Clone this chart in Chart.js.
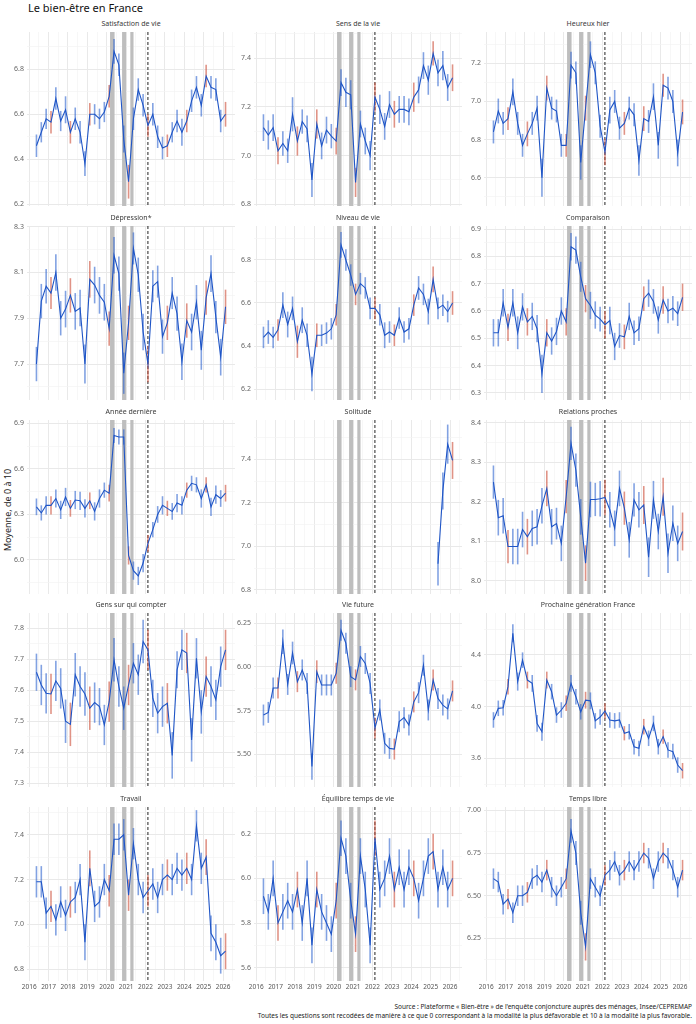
<!DOCTYPE html>
<html>
<head>
<meta charset="utf-8">
<script src="https://cdn.jsdelivr.net/npm/chart.js@4.4.0/dist/chart.umd.min.js"></script>
<style>
  body { margin: 0; background: #fff; font-family: "Noto Sans", sans-serif; }
  #wrap { position: relative; width: 696px; height: 1024px; overflow: hidden; }
  #wrap canvas { position: absolute; }
  .strip { position: absolute; font-size: 7px; line-height: 10px; color: #3a3a3a; text-align: center; white-space: nowrap; }
  #title { position: absolute; left: 28px; top: 0; font-size: 11px; line-height: 16px; color: #111; }
  #ytitle { position: absolute; left: 8px; top: 510px; font-size: 9px; line-height: 10px; color: #222;
            transform: translate(-50%, -50%) rotate(-90deg); white-space: nowrap; }
  .note { position: absolute; right: 4px; font-size: 6.5px; line-height: 9px; color: #222; white-space: nowrap; }
</style>
</head>
<body>
<div id="wrap">
  <div id="title">Le bien-être en France</div>
  <div id="ytitle">Moyenne, de 0 à 10</div>
</div>
<script>
// enquête trimestrielle (mois)
var dates = ["2016-05","2016-08","2016-11","2017-02","2017-05","2017-08","2017-11","2018-02","2018-05","2018-08",
             "2018-11","2019-02","2019-05","2019-08","2019-11","2020-02","2020-05","2020-08","2020-11","2021-02",
             "2021-05","2021-08","2021-11","2022-02","2022-05","2022-08","2022-11","2023-02","2023-05","2023-08",
             "2023-11","2024-02","2024-05","2024-08","2024-11","2025-02","2025-05","2025-08","2025-11","2026-02"];
var highlightMonth = "02";

var titles = ["Satisfaction de vie","Sens de la vie","Heureux hier",
              "Dépression*","Niveau de vie","Comparaison",
              "Année dernière","Solitude","Relations proches",
              "Gens sur qui compter","Vie future","Prochaine génération France",
              "Travail","Équilibre temps de vie","Temps libre"];

var satisfaction = [6.46,6.52,6.58,6.565,6.67,6.57,6.62,6.52,6.58,6.52,6.38,6.60,6.60,6.58,6.61,6.68,6.88,6.82,6.49,6.30,
                    6.58,6.71,6.64,6.55,6.60,6.50,6.45,6.46,6.52,6.57,6.52,6.57,6.66,6.72,6.64,6.77,6.72,6.71,6.57,6.60];
var errSatisfaction = [0.05,0.045,0.045,0.05,0.05,0.045,0.06,0.05,0.05,0.05,0.055,0.05,0.045,0.045,0.045,0.05,0.055,0.05,0.06,0.075,
                       0.05,0.05,0.05,0.05,0.05,0.05,0.05,0.05,0.045,0.05,0.06,0.05,0.05,0.05,0.05,0.05,0.05,0.05,0.05,0.055];

var sens = [7.115,7.085,7.115,7.02,7.05,7.02,7.17,7.06,7.14,7.11,6.90,7.13,7.04,7.105,7.08,7.06,7.30,7.26,7.25,6.89,
            7.13,7.06,7.00,7.24,7.19,7.12,7.21,7.17,7.19,7.19,7.18,7.24,7.27,7.37,7.31,7.42,7.34,7.37,7.28,7.32];
var errSens = [0.055,0.06,0.055,0.055,0.05,0.05,0.07,0.06,0.05,0.055,0.07,0.06,0.055,0.055,0.05,0.055,0.055,0.06,0.06,0.06,
               0.055,0.055,0.06,0.06,0.06,0.055,0.055,0.055,0.055,0.055,0.055,0.06,0.055,0.055,0.06,0.05,0.055,0.06,0.055,0.055];

var heureux = [6.84,6.95,6.885,6.91,7.05,6.885,6.77,6.83,6.885,6.965,6.60,7.07,6.965,6.95,6.77,6.77,7.19,7.15,6.68,6.965,
               7.245,7.15,6.87,6.735,6.955,7.00,6.86,6.885,6.965,6.93,6.69,6.91,6.895,7.025,6.77,7.085,7.07,7.00,6.73,6.945];
var errHeureux = [0.06,0.065,0.06,0.06,0.07,0.06,0.06,0.065,0.06,0.065,0.1,0.065,0.06,0.06,0.06,0.06,0.07,0.06,0.09,0.065,
                  0.07,0.06,0.06,0.07,0.07,0.06,0.06,0.06,0.06,0.06,0.08,0.065,0.06,0.07,0.07,0.06,0.06,0.06,0.07,0.065];

var depression = [7.70,7.975,8.04,8.01,8.10,7.90,7.94,8.00,7.93,7.945,7.70,8.07,8.045,8.00,7.97,7.855,8.175,8.095,7.66,7.88,
                  8.205,8.09,7.84,7.70,8.04,8.06,7.82,7.88,8.01,7.92,7.71,7.89,7.84,7.97,7.76,7.99,8.095,7.905,7.73,7.95];
var errDepression = [0.075,0.075,0.075,0.07,0.08,0.075,0.08,0.075,0.08,0.08,0.085,0.08,0.08,0.08,0.08,0.075,0.08,0.075,0.09,0.075,
                     0.07,0.075,0.08,0.08,0.07,0.07,0.075,0.075,0.07,0.075,0.08,0.075,0.08,0.075,0.085,0.075,0.08,0.07,0.08,0.075];

var niveau = [6.44,6.465,6.44,6.475,6.59,6.50,6.575,6.42,6.52,6.45,6.27,6.45,6.45,6.46,6.48,6.545,6.87,6.80,6.73,6.64,
              6.69,6.67,6.575,6.575,6.545,6.45,6.465,6.45,6.53,6.465,6.48,6.59,6.67,6.64,6.56,6.71,6.575,6.59,6.56,6.60];
var errNiveau = [0.05,0.055,0.05,0.05,0.06,0.06,0.055,0.075,0.06,0.055,0.08,0.055,0.05,0.05,0.05,0.05,0.06,0.05,0.05,0.05,
                 0.05,0.05,0.05,0.05,0.05,0.06,0.05,0.05,0.05,0.05,0.05,0.05,0.055,0.05,0.06,0.06,0.05,0.05,0.05,0.055];

var comparaison = [6.52,6.52,6.63,6.54,6.63,6.52,6.615,6.56,6.58,6.535,6.37,6.52,6.49,6.525,6.60,6.56,6.835,6.823,6.725,6.645,
                   6.62,6.585,6.57,6.55,6.565,6.47,6.51,6.505,6.58,6.52,6.535,6.645,6.665,6.635,6.567,6.64,6.60,6.61,6.59,6.65];
var errComparaison = [0.05,0.05,0.05,0.05,0.05,0.06,0.05,0.05,0.05,0.05,0.07,0.05,0.05,0.05,0.05,0.05,0.05,0.05,0.055,0.05,
                      0.05,0.05,0.045,0.05,0.05,0.05,0.045,0.045,0.05,0.045,0.045,0.045,0.05,0.045,0.05,0.05,0.045,0.045,0.045,0.05];

var anneeDerniere = [6.35,6.31,6.36,6.36,6.405,6.33,6.415,6.34,6.395,6.39,6.34,6.39,6.32,6.405,6.46,6.44,6.82,6.81,6.81,6.03,
                     5.93,5.895,5.98,6.11,6.20,6.30,6.36,6.34,6.32,6.375,6.36,6.46,6.505,6.495,6.405,6.495,6.35,6.43,6.405,6.44];
var errAnneeDerniere = [0.055,0.05,0.06,0.06,0.06,0.06,0.06,0.055,0.06,0.06,0.06,0.055,0.06,0.06,0.05,0.055,0.05,0.05,0.05,0.06,
                        0.06,0.06,0.06,0.055,0.05,0.055,0.06,0.05,0.055,0.06,0.06,0.05,0.05,0.05,0.06,0.05,0.06,0.06,0.055,0.055];

var solitude = [null,null,null,null,null,null,null,null,null,null,null,null,null,null,null,null,null,null,null,null,
                null,null,null,null,null,null,null,null,null,null,null,null,null,null,null,null,6.92,7.255,7.47,7.395];
var errSolitude = [null,null,null,null,null,null,null,null,null,null,null,null,null,null,null,null,null,null,null,null,
                   null,null,null,null,null,null,null,null,null,null,null,null,null,null,null,null,0.1,0.085,0.09,0.085];

var relations = [8.25,8.16,8.165,8.087,8.087,8.087,8.13,8.112,8.133,8.137,8.19,8.234,8.137,8.145,8.095,8.213,8.348,8.28,8.162,8.045,
                 8.206,8.206,8.208,8.211,8.18,8.133,8.234,8.184,8.104,8.205,8.18,8.192,8.06,8.205,8.125,8.213,8.07,8.146,8.095,8.125];
var errRelations = [0.042,0.045,0.045,0.042,0.045,0.045,0.045,0.045,0.045,0.045,0.045,0.045,0.045,0.04,0.045,0.042,0.042,0.042,0.045,0.045,
                    0.045,0.042,0.045,0.045,0.045,0.045,0.045,0.042,0.045,0.042,0.045,0.048,0.05,0.048,0.045,0.048,0.05,0.045,0.045,0.048];

var gensCompter = [7.658,7.617,7.59,7.588,7.63,7.606,7.50,7.49,7.65,7.612,7.588,7.542,7.56,7.547,7.488,7.563,7.698,7.612,7.542,7.617,
                   7.687,7.65,7.757,7.73,7.574,7.526,7.547,7.558,7.39,7.666,7.73,7.72,7.44,7.703,7.53,7.644,7.612,7.569,7.676,7.73];
var errGensCompter = [0.06,0.065,0.065,0.065,0.065,0.065,0.07,0.07,0.07,0.065,0.07,0.07,0.065,0.06,0.065,0.065,0.07,0.065,0.07,0.065,
                      0.065,0.065,0.07,0.065,0.06,0.065,0.065,0.065,0.075,0.06,0.065,0.065,0.07,0.065,0.07,0.065,0.065,0.065,0.065,0.065];

var vieFuture = [5.725,5.74,5.88,5.88,6.145,5.90,6.08,5.916,5.983,5.906,5.43,5.973,5.897,5.897,5.897,5.964,6.21,6.136,5.945,5.926,
                 6.06,6.02,5.906,5.65,5.754,5.563,5.534,5.53,5.687,5.71,5.668,5.80,5.853,6.01,5.754,5.926,5.82,5.782,5.76,5.863];
var errVieFuture = [0.06,0.06,0.06,0.06,0.07,0.06,0.065,0.06,0.06,0.06,0.075,0.065,0.06,0.06,0.06,0.06,0.06,0.06,0.06,0.06,
                    0.06,0.06,0.06,0.06,0.06,0.06,0.06,0.06,0.06,0.06,0.06,0.06,0.06,0.06,0.06,0.06,0.06,0.06,0.06,0.06];

var prochaineGeneration = [3.897,3.987,3.992,4.155,4.568,4.194,4.36,4.206,4.18,3.87,3.806,4.206,4.116,3.935,3.974,4.026,4.18,4.077,3.96,4.05,
                           4.045,3.89,3.92,3.966,3.897,3.89,3.897,3.794,3.806,3.69,3.677,3.845,3.755,3.87,3.69,3.768,3.665,3.652,3.548,3.504];
var errProchaineGeneration = [0.06,0.06,0.06,0.06,0.07,0.07,0.06,0.065,0.065,0.065,0.07,0.065,0.06,0.06,0.06,0.06,0.065,0.06,0.06,0.065,
                              0.065,0.06,0.06,0.06,0.06,0.06,0.06,0.055,0.06,0.06,0.06,0.06,0.06,0.06,0.06,0.055,0.06,0.06,0.06,0.06];

var travail = [7.19,7.19,7.05,7.08,7.02,7.10,7.04,7.10,7.12,7.20,6.92,7.25,7.08,7.10,7.20,7.15,7.38,7.38,7.40,7.13,
               7.36,7.20,7.12,7.15,7.18,7.12,7.20,7.22,7.20,7.25,7.22,7.25,7.20,7.44,7.25,7.30,6.96,6.92,6.86,6.88];
var errTravail = [0.07,0.07,0.07,0.07,0.07,0.07,0.07,0.07,0.07,0.07,0.08,0.08,0.07,0.07,0.07,0.07,0.07,0.07,0.07,0.07,
                  0.07,0.07,0.07,0.07,0.07,0.07,0.07,0.07,0.07,0.07,0.07,0.07,0.07,0.07,0.07,0.08,0.08,0.08,0.08,0.08];

var equilibre = [5.92,5.85,6.00,5.80,5.85,5.90,5.85,5.95,5.80,6.00,5.70,5.95,5.85,5.80,5.75,5.90,6.18,6.10,5.90,5.75,
                 6.10,5.95,5.70,6.18,5.95,6.00,6.10,5.95,6.05,5.95,6.05,6.00,5.90,6.00,6.10,6.12,5.95,6.05,5.95,6.00];
var errEquilibre = [0.08,0.08,0.08,0.08,0.08,0.08,0.08,0.08,0.08,0.08,0.08,0.08,0.08,0.08,0.08,0.08,0.08,0.08,0.08,0.08,
                    0.08,0.08,0.08,0.08,0.08,0.08,0.08,0.08,0.08,0.08,0.08,0.08,0.08,0.08,0.08,0.08,0.08,0.08,0.08,0.08];

var tempsLibre = [6.60,6.58,6.45,6.48,6.40,6.50,6.50,6.52,6.60,6.62,6.58,6.65,6.55,6.50,6.55,6.60,6.88,6.75,6.40,6.20,
                  6.60,6.55,6.50,6.62,6.65,6.70,6.62,6.65,6.70,6.65,6.70,6.75,6.72,6.60,6.70,6.75,6.72,6.65,6.55,6.65];
var errTempsLibre = [0.06,0.06,0.06,0.06,0.06,0.06,0.06,0.06,0.06,0.06,0.06,0.06,0.06,0.06,0.06,0.06,0.07,0.07,0.07,0.08,
                     0.06,0.06,0.06,0.06,0.06,0.06,0.06,0.06,0.06,0.06,0.06,0.06,0.06,0.06,0.06,0.06,0.06,0.06,0.06,0.06];

var series = [satisfaction, sens, heureux, depression, niveau, comparaison, anneeDerniere, solitude, relations,
              gensCompter, vieFuture, prochaineGeneration, travail, equilibre, tempsLibre];
var errors = [errSatisfaction, errSens, errHeureux, errDepression, errNiveau, errComparaison, errAnneeDerniere, errSolitude, errRelations,
              errGensCompter, errVieFuture, errProchaineGeneration, errTravail, errEquilibre, errTempsLibre];

// axes
var yLabels = [["6.2","6.4","6.6","6.8"], ["6.8","7.0","7.2","7.4"], ["6.6","6.8","7.0","7.2"],
               ["7.7","7.9","8.1","8.3"], ["6.2","6.4","6.6","6.8"], ["6.3","6.4","6.5","6.6","6.7","6.8","6.9"],
               ["6.0","6.3","6.6","6.9"], ["6.8","7.0","7.2","7.4"], ["8.0","8.1","8.2","8.3","8.4"],
               ["7.3","7.4","7.5","7.6","7.7","7.8"], ["5.50","5.75","6.00","6.25"], ["3.6","4.0","4.4"],
               ["6.8","7.0","7.2","7.4"], ["5.6","5.8","6.0","6.2"], ["6.25","6.50","6.75","7.00"]];
var yMin = [6.192, 6.793, 6.452, 7.543, 6.149, 6.274, 5.776, 6.781, 7.967, 7.288, 5.313, 3.378, 6.747, 5.54, 6.00];
var yMax = [6.966, 7.508, 7.364, 8.303, 6.958, 6.911, 6.922, 7.581, 8.407, 7.849, 6.309, 4.725, 7.524, 6.32, 7.02];
var xTickLabels = ["2016","2017","2018","2019","2020","2021","2022","2023","2024","2025","2026"];

var confinements = [["2020-03-17","2020-05-11"], ["2020-10-30","2020-12-15"], ["2021-04-03","2021-05-03"]];
var rupture = "2022-02-15";

var sourceLines = ["Source : Plateforme « Bien-être » de l'enquête conjoncture auprès des ménages, Insee/CEPREMAP",
                   "Toutes les questions sont recodées de manière à ce que 0 correspondant à la modalité la plus défavorable et 10 à la modalité la plus favorable."];

function toYear(s) {
  var p = s.split("-");
  var y = +p[0], m = +p[1];
  var d = p.length > 2 ? (+p[2] - 1) / 30 : 0.5;
  return y + (m - 1 + d) / 12;
}

var BLUE = "#1f55c6";
var BLUE_ERR = "rgba(40, 95, 205, 0.58)";
var RED_ERR = "rgba(205, 80, 60, 0.62)";

var decor = {
  id: "decor",
  beforeDatasetsDraw: function(chart) {
    var ctx = chart.ctx, a = chart.chartArea, x = chart.scales.x, y = chart.scales.y;
    var opt = chart.options.plugins.decor;
    ctx.save();
    ctx.beginPath();
    ctx.rect(a.left, a.top, a.right - a.left, a.bottom - a.top);
    ctx.clip();
    ctx.fillStyle = "#bebebe";
    confinements.forEach(function(c) {
      var x0 = x.getPixelForValue(toYear(c[0]));
      var x1 = x.getPixelForValue(toYear(c[1]));
      ctx.fillRect(x0 - 0.8, a.top, x1 - x0 + 1.6, a.bottom - a.top);
    });
    var xd = x.getPixelForValue(toYear(rupture));
    ctx.strokeStyle = "#222";
    ctx.lineWidth = 1;
    ctx.setLineDash([3, 2]);
    ctx.beginPath();
    ctx.moveTo(xd, a.top);
    ctx.lineTo(xd, a.bottom);
    ctx.stroke();
    ctx.setLineDash([]);
    ctx.lineWidth = 1.6;
    opt.values.forEach(function(v, i) {
      if (v == null) return;
      var e = opt.errs[i];
      var px = x.getPixelForValue(toYear(dates[i]));
      ctx.strokeStyle = dates[i].slice(5, 7) === highlightMonth ? RED_ERR : BLUE_ERR;
      ctx.beginPath();
      ctx.moveTo(px, y.getPixelForValue(v - e));
      ctx.lineTo(px, y.getPixelForValue(v + e));
      ctx.stroke();
    });
    ctx.restore();
  }
};

var AXIS_W = 26, PLOT_W = 208, PLOT_H = 174, PAD_T = 8, XAXIS_H = 14;
var colLeft = [27, 254, 484];
var rowTop = [32, 226, 420, 613, 807];

var firstYear = toYear(dates[0]), lastYear = toYear(dates[dates.length - 1]);
var xMin = firstYear - 0.05 * (lastYear - firstYear);
var xMax = lastYear + 0.05 * (lastYear - firstYear);
var xMajor = xTickLabels.map(Number);
var xTicks = [];
xMajor.forEach(function(v) { xTicks.push(v); if (v + 0.5 < xMax) xTicks.push(v + 0.5); });

var wrap = document.getElementById("wrap");

titles.forEach(function(t, k) {
  var r = Math.floor(k / 3), c = k % 3;
  var bottom = r === 4;

  var strip = document.createElement("div");
  strip.className = "strip";
  strip.style.left = colLeft[c] + "px";
  strip.style.width = PLOT_W + "px";
  strip.style.top = (rowTop[r] - 13) + "px";
  strip.textContent = t;
  wrap.appendChild(strip);

  var cv = document.createElement("canvas");
  var h = PAD_T + PLOT_H + (bottom ? XAXIS_H : PAD_T);
  cv.width = AXIS_W + PLOT_W;
  cv.height = h;
  cv.style.left = (colLeft[c] - AXIS_W) + "px";
  cv.style.top = (rowTop[r] - PAD_T) + "px";
  wrap.appendChild(cv);

  var major = yLabels[k].map(Number);
  var step = major[1] - major[0];
  var yTicks = [];
  for (var v = major[0] - step / 2; v <= yMax[k] + 1e-9; v += step / 2) {
    if (v >= yMin[k] - 1e-9) yTicks.push(Math.round(v * 10000) / 10000);
  }
  var isMajorY = function(val) { return major.some(function(m) { return Math.abs(m - val) < 1e-6; }); };

  var vals = series[k];
  new Chart(cv, {
    type: "line",
    data: {
      datasets: [{
        data: dates.map(function(d, i) { return { x: toYear(d), y: vals[i] }; }),
        borderColor: BLUE,
        borderWidth: 1.1,
        pointRadius: 0,
        tension: 0,
        spanGaps: false
      }]
    },
    options: {
      responsive: false,
      animation: false,
      layout: { padding: { top: PAD_T, bottom: bottom ? 0 : PAD_T, left: 0, right: 0 } },
      plugins: {
        legend: { display: false },
        tooltip: { enabled: false },
        decor: { values: vals, errs: errors[k] }
      },
      scales: {
        x: {
          type: "linear",
          min: xMin,
          max: xMax,
          afterBuildTicks: function(s) { s.ticks = xTicks.map(function(v) { return { value: v }; }); },
          afterFit: function(s) { s.height = bottom ? XAXIS_H : 0; },
          ticks: {
            display: bottom,
            autoSkip: false,
            maxRotation: 0,
            padding: 2,
            color: "#555",
            font: { family: "Noto Sans", size: 6.5 },
            callback: function(val) {
              var j = xMajor.indexOf(val);
              return j >= 0 ? xTickLabels[j] : "";
            }
          },
          grid: {
            drawTicks: false,
            color: function(c) { return Number.isInteger(c.tick.value) ? "#e9e9e9" : "#f3f3f3"; },
            lineWidth: function(c) { return Number.isInteger(c.tick.value) ? 1 : 0.7; }
          },
          border: { display: false }
        },
        y: {
          type: "linear",
          min: yMin[k],
          max: yMax[k],
          afterBuildTicks: function(s) { s.ticks = yTicks.map(function(v) { return { value: v }; }); },
          afterFit: function(s) { s.width = AXIS_W; },
          ticks: {
            padding: 3,
            color: "#666",
            font: { family: "Noto Sans", size: 7 },
            callback: function(val) {
              for (var j = 0; j < major.length; j++) if (Math.abs(major[j] - val) < 1e-6) return yLabels[k][j];
              return "";
            }
          },
          grid: {
            drawTicks: false,
            color: function(c) { return isMajorY(c.tick.value) ? "#e9e9e9" : "#f3f3f3"; },
            lineWidth: function(c) { return isMajorY(c.tick.value) ? 1 : 0.7; }
          },
          border: { display: false }
        }
      }
    },
    plugins: [decor]
  });
});

sourceLines.forEach(function(s, i) {
  var d = document.createElement("div");
  d.className = "note";
  d.style.top = (1002 + i * 9) + "px";
  d.textContent = s;
  wrap.appendChild(d);
});
</script>
</body>
</html>
